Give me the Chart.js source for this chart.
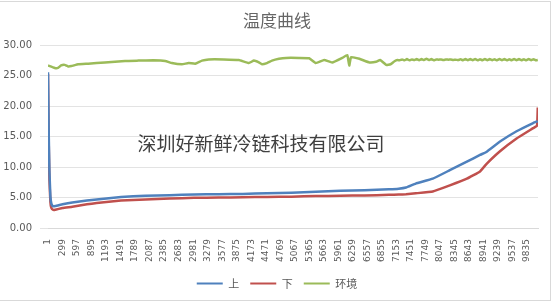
<!DOCTYPE html>
<html>
<head>
<meta charset="utf-8">
<script src="https://cdn.jsdelivr.net/npm/chart.js@4"></script>
<style>
  html, body { margin: 0; padding: 0; background: #fff; }
  #box { position: absolute; left: -1px; top: 1px; width: 550px; height: 298px; border: 1px solid #d9d9d9; }
  #wrap { position: absolute; left: 0; top: -1px; width: 554px; height: 304px; }
</style>
</head>
<body>
<div id="box"></div>
<div id="wrap"><canvas id="grafico" width="554" height="304"></canvas></div>
<script>
// tick labels on the x axis (sample number)
const xTicks = [1, 299, 597, 895, 1193, 1491, 1789, 2087, 2385, 2683, 2981, 3279, 3577, 3875, 4173, 4471,
  4769, 5067, 5365, 5663, 5961, 6259, 6557, 6855, 7153, 7451, 7749, 8047, 8345, 8643, 8941, 9239, 9537, 9835];

// upper sensor (上) and lower sensor (下) share sample positions
const idxSensor = [1, 15, 30, 50, 70, 100, 150, 300, 500, 800, 1000, 1500, 2000, 2500, 3000, 3500, 4000,
  4500, 5000, 5500, 6000, 6500, 7000, 7200, 7350, 7550, 7900, 8250, 8600, 8870, 9000, 9280, 9620, 9960, 10040, 10055];
const upper = [25.6, 16.0, 9.5, 5.2, 4.0, 3.6, 3.6, 3.9, 4.2, 4.5, 4.7, 5.1, 5.3, 5.4, 5.5, 5.55, 5.6,
  5.7, 5.8, 5.95, 6.1, 6.2, 6.35, 6.45, 6.65, 7.3, 8.1, 9.5, 10.9, 12.0, 12.5, 14.2, 15.9, 17.25, 17.5, 17.6];
const lower = [25.3, 14.5, 8.0, 4.3, 3.3, 3.0, 3.0, 3.3, 3.5, 3.9, 4.1, 4.5, 4.7, 4.85, 4.95, 5.0, 5.05,
  5.1, 5.15, 5.25, 5.3, 5.35, 5.45, 5.5, 5.55, 5.7, 6.0, 7.0, 8.1, 9.3, 10.5, 12.6, 14.7, 16.4, 16.8, 19.8];

// ambient (环境)
const idxAmbient = [1, 139, 207, 269, 345, 413, 481, 620, 826, 1170, 1582, 1857, 2166, 2407, 2543, 2750,
  2888, 3025, 3162, 3300, 3610, 3918, 4125, 4228, 4331, 4393, 4496, 4599, 4743, 4888, 5155, 5362, 5500,
  5671, 5836, 6042, 6145, 6186, 6221, 6393, 6599, 6737, 6819, 6943, 7032, 7114, 7176,
  7220, 7270, 7320, 7370, 7420, 7470, 7520, 7570, 7620, 7670, 7720, 7770, 7820, 7870, 7920, 7970,
  8020, 8070, 8120, 8170, 8220, 8270, 8320, 8370, 8420, 8470, 8520, 8570, 8620, 8670, 8720, 8770,
  8820, 8870, 8920, 8970, 9020, 9070, 9120, 9170, 9220, 9270, 9320, 9370, 9420, 9470, 9520, 9570,
  9620, 9670, 9720, 9770, 9820, 9870, 9920, 9970, 10020, 10055];
const ambient = [26.7, 26.3, 26.3, 26.7, 26.8, 26.55, 26.6, 26.9, 27.0, 27.2, 27.45, 27.5, 27.55, 27.45, 27.1, 26.9,
  27.1, 27.0, 27.5, 27.7, 27.7, 27.6, 27.1, 27.5, 27.2, 26.9, 27.1, 27.5, 27.8, 27.95, 27.95, 27.9, 27.1,
  27.6, 27.2, 27.95, 28.4, 26.7, 28.05, 27.8, 27.2, 27.3, 27.6, 26.8, 26.9, 27.4, 27.6,
  27.55, 27.7, 27.55, 27.75, 27.55, 27.7, 27.6, 27.75, 27.55, 27.75, 27.6, 27.8, 27.6, 27.75, 27.55, 27.7,
  27.65, 27.7, 27.6, 27.7, 27.65, 27.68, 27.6, 27.65, 27.58, 27.72, 27.56, 27.75, 27.55, 27.75, 27.58, 27.76,
  27.55, 27.72, 27.56, 27.76, 27.55, 27.75, 27.58, 27.72, 27.55, 27.76, 27.57, 27.75, 27.55, 27.72, 27.56, 27.76,
  27.55, 27.75, 27.57, 27.72, 27.55, 27.76, 27.56, 27.74, 27.56, 27.62];

const toXY = (xs, ys) => xs.map((x, i) => ({ x: x, y: ys[i] }));

// watermark text drawn across the plot
const marca = {
  id: 'marca',
  afterDatasetsDraw(chart) {
    const c = chart.ctx;
    c.save();
    c.font = '19px "Noto Sans CJK SC"';
    c.fillStyle = '#404040';
    c.textAlign = 'center';
    c.textBaseline = 'middle';
    c.fillText('深圳好新鲜冷链科技有限公司', 261, 145);
    c.restore();
  }
};

const ctx = document.getElementById('grafico').getContext('2d');
const grafico = new Chart(ctx, {
  type: 'line',
  data: {
    datasets: [
      { label: '上', data: toXY(idxSensor, upper), borderColor: '#4F81BD', backgroundColor: '#4F81BD' },
      { label: '下', data: toXY(idxSensor, lower), borderColor: '#C0504D', backgroundColor: '#C0504D' },
      { label: '环境', data: toXY(idxAmbient, ambient), borderColor: '#9BBB59', backgroundColor: '#9BBB59' },
    ],
  },
  plugins: [marca],
  options: {
    responsive: false,
    animation: false,
    layout: { padding: { left: 0, right: 0, top: 0, bottom: 4 } },
    elements: {
      point: { radius: 0 },
      line: { borderWidth: 2.5, tension: 0.1 },
    },
    plugins: {
      title: {
        display: true,
        text: '温度曲线',
        color: '#666666',
        font: { size: 17, family: '"Noto Sans CJK SC"', weight: 'normal' },
        padding: { top: 11, bottom: 15 },
      },
      legend: {
        position: 'bottom',
        labels: {
          color: '#595959',
          font: { size: 11, family: '"Noto Sans CJK SC"' },
          boxWidth: 26,
          boxHeight: 2,
          padding: 11,
          generateLabels(chart) {
            const items = Chart.defaults.plugins.legend.labels.generateLabels(chart);
            items.forEach(it => { it.lineWidth = 0; });
            return items;
          },
        },
      },
      tooltip: { enabled: false },
    },
    scales: {
      x: {
        type: 'linear',
        min: 1,
        max: 10060,
        afterBuildTicks(scale) { scale.ticks = xTicks.map(v => ({ value: v })); },
        afterFit(scale) { scale.height = 39; },
        grid: { display: false },
        border: { color: '#d9d9d9' },
        ticks: {
          autoSkip: false,
          minRotation: 90,
          maxRotation: 90,
          padding: 3,
          color: '#595959',
          font: { size: 9, family: '"DejaVu Sans"' },
          callback: v => String(v),
        },
      },
      y: {
        min: 0,
        max: 30,
        afterFit(scale) { scale.width = 48; },
        grid: { color: '#e3e3e3' },
        border: { display: false },
        ticks: {
          stepSize: 5,
          padding: 8,
          color: '#595959',
          font: { size: 10, family: '"DejaVu Sans"' },
          callback: v => v.toFixed(2),
        },
      },
      // empty right-hand margin so the title and legend centre on the whole box
      yRight: {
        type: 'linear',
        position: 'right',
        min: 0,
        max: 30,
        afterFit(scale) { scale.width = 16; },
        grid: { display: false },
        border: { display: false },
        ticks: { display: false },
      },
    },
  },
});
</script>
</body>
</html>
